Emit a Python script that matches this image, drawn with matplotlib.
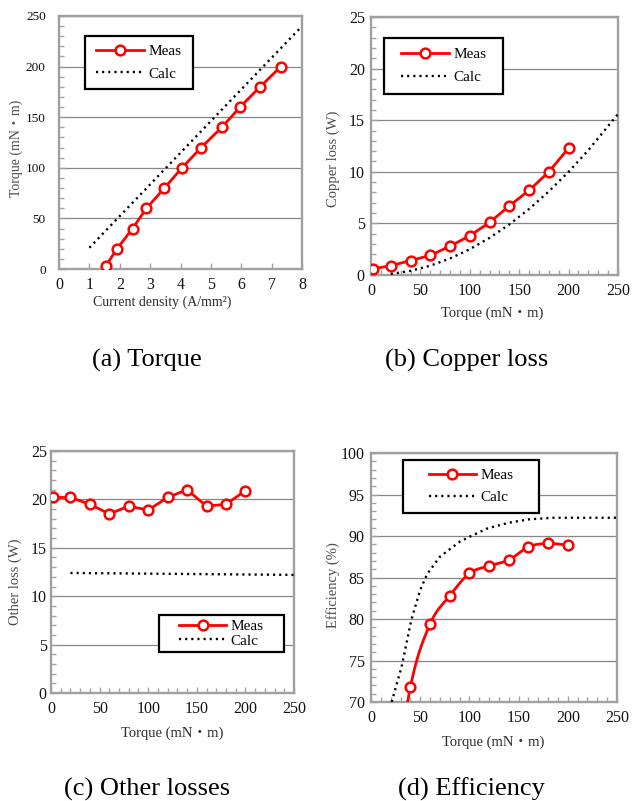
import numpy as np
import matplotlib
matplotlib.use("Agg")
import matplotlib.pyplot as plt
from matplotlib.lines import Line2D
from matplotlib.patches import Rectangle
from matplotlib.ticker import MultipleLocator

plt.rcParams['font.family'] = ['Liberation Serif', 'Noto Sans CJK JP']

# (a) torque versus current density
torque_j_meas = [1.54, 1.91, 2.42, 2.88, 3.47, 4.05, 4.68, 5.36, 5.96, 6.62, 7.30]
torque_meas = [3, 20, 40, 60, 80, 100, 120, 140, 160, 180, 200]
torque_j_calc = [1.0, 8.0]
torque_calc = [21, 240]

# (b) copper loss versus torque
cu_torque_meas = [2, 20, 40, 60, 80, 100, 120, 140, 160, 180, 200]
cu_loss_meas = [0.6, 0.9, 1.4, 1.9, 2.8, 3.8, 5.1, 6.7, 8.2, 10.0, 12.3]
cu_torque_calc = [20, 40, 60, 80, 100, 120, 140, 160, 180, 200, 220, 250]
cu_loss_calc = [0.1, 0.4, 0.9, 1.6, 2.5, 3.6, 4.9, 6.4, 8.1, 10.0, 12.1, 15.6]

# (c) other losses versus torque
oth_torque_meas = [2, 20, 40, 60, 80, 100, 120, 140, 160, 180, 200]
oth_loss_meas = [20.2, 20.2, 19.5, 18.5, 19.3, 18.9, 20.2, 21.0, 19.3, 19.5, 20.9]
oth_torque_calc = [20, 250]
oth_loss_calc = [12.4, 12.2]

# (d) efficiency versus torque
eff_torque_meas = [20, 40, 60, 80, 100, 120, 140, 160, 180, 200]
eff_meas = [56.0, 71.8, 79.4, 82.8, 85.5, 86.4, 87.1, 88.7, 89.1, 88.9]
eff_torque_calc = [21, 31, 41, 50, 57, 70, 90, 100, 118, 140, 160, 185, 220, 250]
eff_calc = [70.0, 74.2, 79.9, 83.5, 85.4, 87.5, 89.3, 89.9, 90.9, 91.6, 92.0, 92.2, 92.2, 92.2]

legend_labels = ['Meas', 'Calc']
captions = ['(a) Torque', '(b) Copper loss', '(c) Other losses', '(d) Efficiency']

RED = '#FF0000'
meas_style = dict(color=RED, lw=2.0, marker='o', ms=7.0, mfc='white',
                  mec=RED, mew=1.8)
calc_style = dict(color='black', lw=1.7, linestyle=(0, (0.9, 1.7)))

SPINE = '#A0A0A0'
GRID = '#868686'
YLAB = '#4a4a4a'
XLAB = '#2a2a2a'
TICK_SIZE = 11.5

W, H = 644, 801
fig = plt.figure(figsize=(W / 100, H / 100), dpi=100)


def px_axes(x0, y0, x1, y1):
    return fig.add_axes([x0 / W, 1 - y1 / H, (x1 - x0) / W, (y1 - y0) / H])


def style(ax, xlim, ylim, xmaj, xmin, ymaj, ymin, ysize, ypad):
    ax.set_xlim(*xlim)
    ax.set_ylim(*ylim)
    ax.xaxis.set_major_locator(MultipleLocator(xmaj))
    ax.yaxis.set_major_locator(MultipleLocator(ymaj))
    if xmin:
        ax.xaxis.set_minor_locator(MultipleLocator(xmin))
    if ymin:
        ax.yaxis.set_minor_locator(MultipleLocator(ymin))
    for s in ax.spines.values():
        s.set_color(SPINE)
        s.set_linewidth(1.7)
    ax.yaxis.grid(True, which='major', color=GRID, lw=0.9)
    ax.set_axisbelow(True)
    ax.tick_params(which='both', direction='in', color=SPINE, width=1.0,
                   top=False, right=False, labelcolor='#111111')
    ax.tick_params(which='major', length=4)
    ax.tick_params(which='minor', length=3.5)
    ax.tick_params(axis='x', labelsize=TICK_SIZE, pad=6)
    ax.tick_params(axis='y', labelsize=ysize, pad=ypad)


def set_labels(ax, xl, yl, xpos, ypos, size=10.5):
    ax.set_xlabel(xl, fontsize=size, color=XLAB, va='center')
    ax.set_ylabel(yl, fontsize=size, color=YLAB, va='center')
    ax.xaxis.set_label_coords(*xpos)
    ax.yaxis.set_label_coords(*ypos)


def boxed_legend(ax, rect, spacing):
    x0, y0, w, h = rect
    ax.add_patch(Rectangle((x0, y0), w, h, transform=ax.transAxes,
                           facecolor='white', edgecolor='black', lw=1.6,
                           zorder=5))
    handles = [Line2D([], [], **meas_style), Line2D([], [], **calc_style)]
    leg = ax.legend(handles, legend_labels, loc='center',
                    bbox_to_anchor=(x0 + w / 2, y0 + h / 2), frameon=False,
                    fontsize=11, handlelength=3.1, handletextpad=0.3,
                    labelspacing=spacing, borderpad=0, borderaxespad=0)
    leg.set_zorder(6)


def smooth(ax, x, y, n=24):
    # Catmull-Rom curve through the points, built in axes-normalised space
    x0, x1 = ax.get_xlim()
    y0, y1 = ax.get_ylim()
    p = np.column_stack([(np.asarray(x) - x0) / (x1 - x0),
                         (np.asarray(y) - y0) / (y1 - y0)])
    p = np.vstack([2 * p[0] - p[1], p, 2 * p[-1] - p[-2]])
    out = []
    t = np.linspace(0, 1, n)[:, None]
    for i in range(1, len(p) - 2):
        a, b, c, d = p[i - 1], p[i], p[i + 1], p[i + 2]
        seg = 0.5 * ((2 * b) + (-a + c) * t + (2 * a - 5 * b + 4 * c - d) * t ** 2
                     + (-a + 3 * b - 3 * c + d) * t ** 3)
        out.append(seg if i == 1 else seg[1:])
    out = np.vstack(out)
    return out[:, 0] * (x1 - x0) + x0, out[:, 1] * (y1 - y0) + y0


# ---- (a) Torque ----
ax = px_axes(59, 16, 302, 269)
style(ax, (0, 8), (0, 250), 1, None, 50, 10, 9.5, 9.5)
ax.plot(torque_j_calc, torque_calc, zorder=3, **calc_style)
ax.plot(torque_j_meas, torque_meas, zorder=4, **meas_style)
set_labels(ax, 'Current density (A/mm²)', 'Torque (mN\u30fbm)',
           (0.426, -0.130), (-0.175, 0.478), size=10)
boxed_legend(ax, (0.107, 0.711, 0.444, 0.210), 0.6)

# ---- (b) Copper loss ----
ax = px_axes(371, 17, 618, 275)
style(ax, (0, 250), (0, 25), 50, 10, 5, 1, TICK_SIZE, 4.5)
ax.plot(cu_torque_calc, cu_loss_calc, zorder=3, **calc_style)
ax.plot(cu_torque_meas, cu_loss_meas, zorder=4, **meas_style)
set_labels(ax, 'Torque (mN\u30fbm)', 'Copper loss (W)',
           (0.492, -0.147), (-0.154, 0.450))
boxed_legend(ax, (0.053, 0.702, 0.482, 0.217), 0.6)

# ---- (c) Other losses ----
ax = px_axes(51, 451, 294, 693)
style(ax, (0, 250), (0, 25), 50, 10, 5, 1, TICK_SIZE, 3)
ax.plot(oth_torque_calc, oth_loss_calc, zorder=3, **calc_style)
ax.plot(oth_torque_meas, oth_loss_meas, zorder=4, **meas_style)
set_labels(ax, 'Torque (mN\u30fbm)', 'Other loss (W)',
           (0.498, -0.165), (-0.148, 0.459))
boxed_legend(ax, (0.444, 0.169, 0.514, 0.153), 0.05)

# ---- (d) Efficiency ----
ax = px_axes(371, 453, 617, 702)
style(ax, (0, 250), (70, 100), 50, 10, 5, 1, TICK_SIZE, 4.5)
ax.plot(eff_torque_calc, eff_calc, zorder=3, **calc_style)
sx, sy = smooth(ax, eff_torque_meas, eff_meas)
ax.plot(sx, sy, color=RED, lw=meas_style['lw'], zorder=4)
ax.plot(eff_torque_meas, eff_meas, linestyle='none', zorder=4,
        **{k: v for k, v in meas_style.items() if k not in ('lw',)})
set_labels(ax, 'Torque (mN\u30fbm)', 'Efficiency (%)',
           (0.498, -0.161), (-0.154, 0.470))
boxed_legend(ax, (0.130, 0.759, 0.553, 0.213), 0.55)

# ---- captions ----
for (cx, cy), text in zip([(147, 360), (467, 360), (147, 789), (471, 789)],
                          captions):
    fig.text(cx / W, 1 - cy / H, text, ha='center', va='center', fontsize=19)

fig.savefig('out.png', dpi=100)
